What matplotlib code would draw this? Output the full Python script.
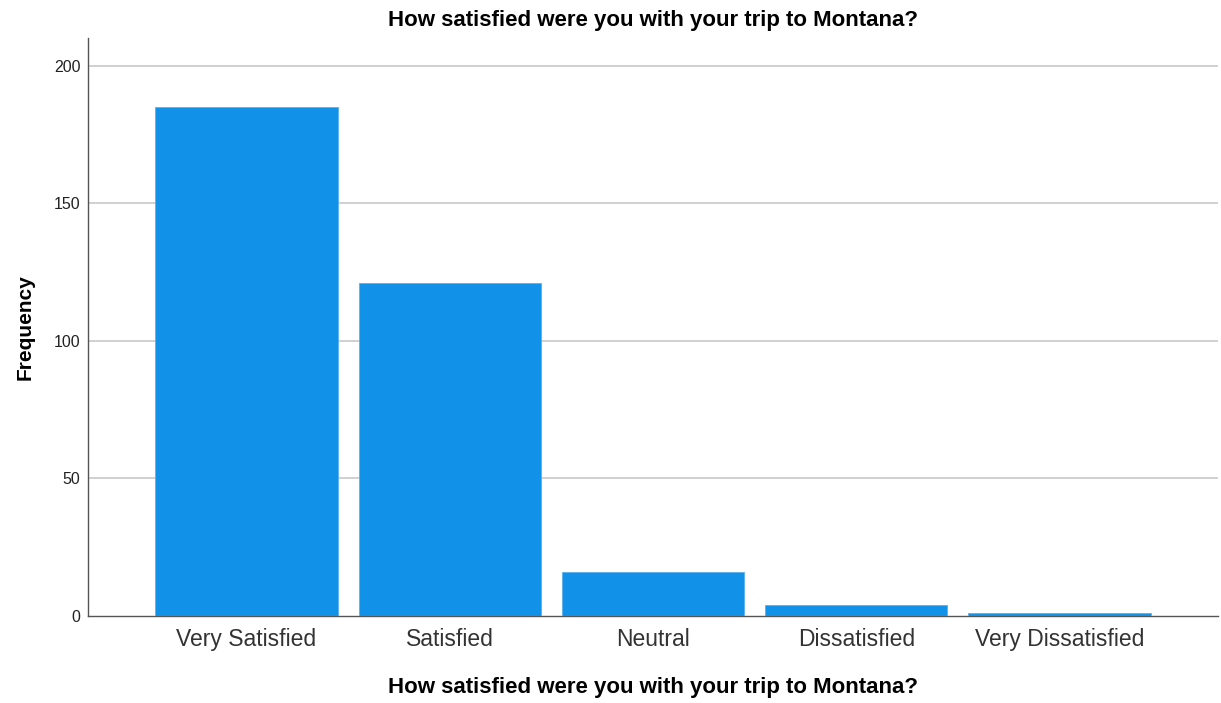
import matplotlib
matplotlib.use("Agg")
import matplotlib.pyplot as plt

categories = ["Very Satisfied", "Satisfied", "Neutral", "Dissatisfied", "Very Dissatisfied"]
frequency = [185, 121, 16, 4, 1]
yticks = [0, 50, 100, 150, 200]

plt.rcParams['font.family'] = ['Liberation Sans', 'DejaVu Sans']

fig = plt.figure(figsize=(12.21, 7.03), dpi=100)
ax = fig.add_axes([0.0721, 0.1238, 0.9254, 0.822])

x = list(range(len(categories)))
ax.bar(x, frequency, width=0.897, color="#1192E8", edgecolor="#5AB0EE", linewidth=0.6, zorder=3)

ax.set_xlim(-0.78, 4.78)
ax.set_ylim(0, 210)
ax.set_yticks(yticks)
ax.set_yticklabels([str(v) for v in yticks], fontsize=11.5, color="#222222")
ax.set_xticks(x)
ax.set_xticklabels(categories, fontsize=16.5, color="#333333")
ax.tick_params(axis='both', length=0)
ax.tick_params(axis='y', pad=5.5)
ax.tick_params(axis='x', pad=8.5)

for v in yticks[1:]:
    ax.axhline(v, color="#C8C8C8", linewidth=1.2, zorder=1)

for s in ["top", "right"]:
    ax.spines[s].set_visible(False)
for s in ["left", "bottom"]:
    ax.spines[s].set_color("#555555")
    ax.spines[s].set_linewidth(1.0)

ax.set_title("How satisfied were you with your trip to Montana?", fontsize=16, fontweight="bold", pad=9)
ax.set_xlabel("How satisfied were you with your trip to Montana?", fontsize=16, fontweight="bold", labelpad=19)
ax.set_ylabel("Frequency", fontsize=15, fontweight="bold", labelpad=14)

fig.savefig("out.png", dpi=100)
